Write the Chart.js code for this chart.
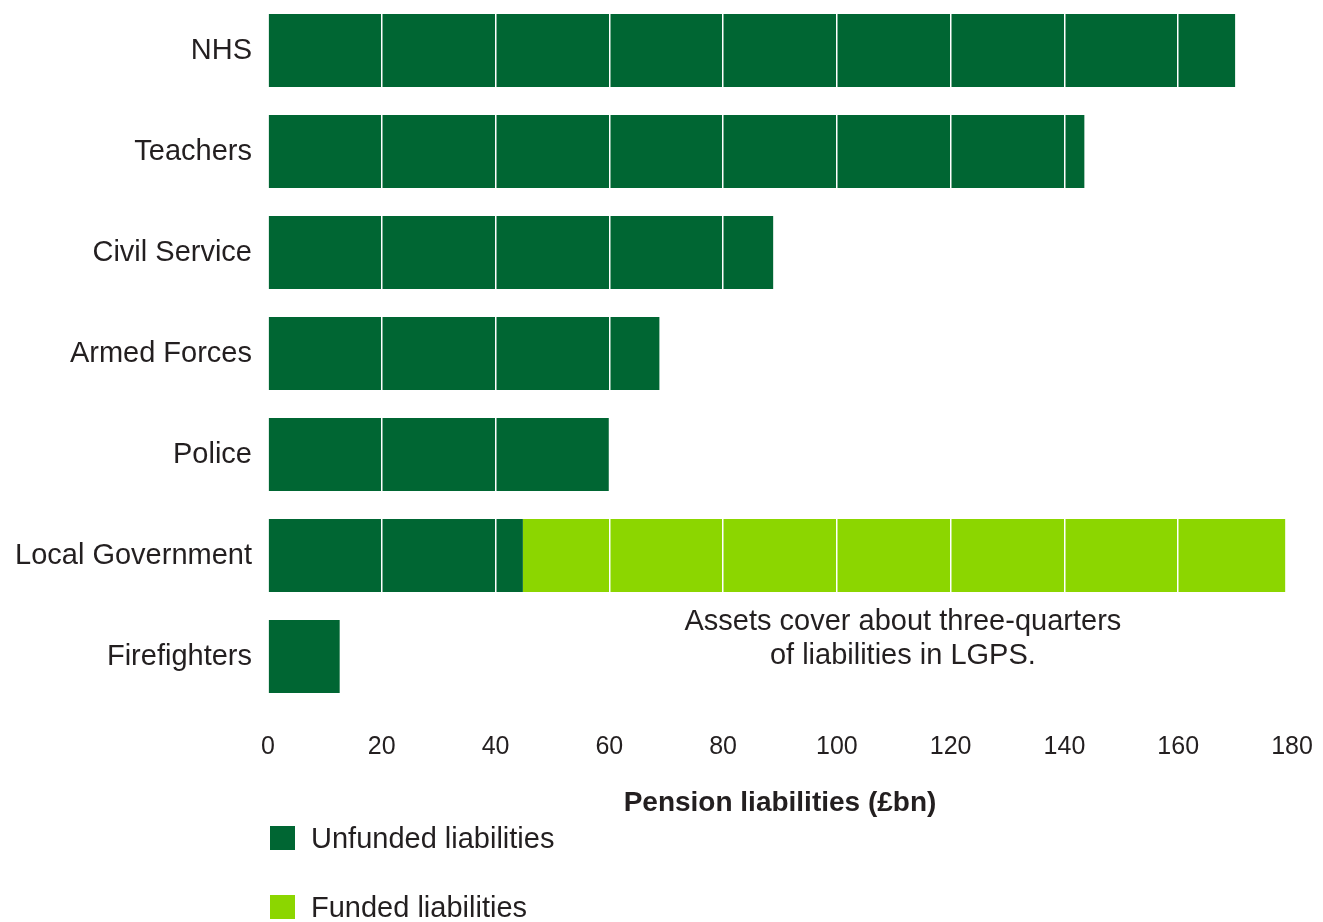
<!DOCTYPE html>
<html>
<head>
<meta charset="utf-8">
<script src="https://cdn.jsdelivr.net/npm/chart.js@4.4.1/dist/chart.umd.min.js"></script>
<style>
  html, body { margin: 0; padding: 0; background: #fff; }
  #wrap { position: relative; width: 1323px; height: 922px; }
  canvas { position: absolute; left: 0; top: 0; }
  .leg { position: absolute; left: 270px; font-family: "Liberation Sans", Arial, sans-serif; font-size: 29px; color: #231f20; display: flex; align-items: center; height: 34px; }
  .sw { width: 25px; height: 24px; margin-right: 16px; }
</style>
</head>
<body>
<div id="wrap">
  <canvas id="c" width="1323" height="922"></canvas>
  <div class="leg" style="top:821px;"><span class="sw" style="background:#006633"></span>Unfunded liabilities</div>
  <div class="leg" style="top:890px;"><span class="sw" style="background:#8cd600"></span>Funded liabilities</div>
</div>
<script>
const categories = ["NHS", "Teachers", "Civil Service", "Armed Forces", "Police", "Local Government", "Firefighters"];
const unfunded = [170, 143.5, 88.8, 68.8, 59.9, 44.8, 12.6];
const funded = [null, null, null, null, null, 134, null];
const xTicks = [0, 20, 40, 60, 80, 100, 120, 140, 160, 180];
const seriesNames = ["Unfunded liabilities", "Funded liabilities"];
const axisTitle = "Pension liabilities (£bn)";
const noteLines = ["Assets cover about three-quarters", "of liabilities in LGPS."];
const noteAnchor = { category: "Firefighters", value: 111.6 };

const FONT = '"Liberation Sans", Arial, sans-serif';
const TEXT = '#231f20';

const notePlugin = {
  id: 'note',
  afterDraw(chart) {
    const ctx = chart.ctx;
    const xs = chart.scales.x, ys = chart.scales.y;
    const x = xs.getPixelForValue(noteAnchor.value);
    const y = ys.getPixelForValue(categories.indexOf(noteAnchor.category));
    ctx.save();
    ctx.font = '29px ' + FONT;
    ctx.fillStyle = TEXT;
    ctx.textAlign = 'center';
    ctx.textBaseline = 'middle';
    ctx.fillText(noteLines[0], x, y - 35);
    ctx.fillText(noteLines[1], x, y - 0.5);
    ctx.restore();
  }
};

new Chart(document.getElementById('c'), {
  type: 'bar',
  data: {
    labels: categories,
    datasets: [
      { label: seriesNames[0], data: unfunded, backgroundColor: '#006633', borderWidth: 0, categoryPercentage: 1, barPercentage: 0.723 },
      { label: seriesNames[1], data: funded, backgroundColor: '#8cd600', borderWidth: 0, categoryPercentage: 1, barPercentage: 0.723 }
    ]
  },
  options: {
    indexAxis: 'y',
    responsive: false,
    animation: false,
    layout: { padding: { left: 0, right: 31, top: -1, bottom: 100 } },
    plugins: { legend: { display: false }, tooltip: { enabled: false } },
    scales: {
      x: {
        stacked: true,
        min: 0, max: 180,
        afterBuildTicks(scale) { scale.ticks = xTicks.map(v => ({ value: v })); },
        afterFit(scale) { scale.height = 115; scale.paddingLeft = 0; scale.paddingRight = 0; },
        grid: { color: '#ffffff', lineWidth: 1.5, drawTicks: false, z: 1 },
        border: { display: false },
        ticks: { color: TEXT, font: { family: FONT, size: 25 }, padding: 25, maxRotation: 0 },
        title: { display: true, text: axisTitle, color: TEXT, font: { family: FONT, size: 28, weight: 'bold' }, padding: { top: 0, bottom: 2 } }
      },
      y: {
        stacked: true,
        afterFit(scale) { scale.width = 268; scale.paddingTop = 0; scale.paddingBottom = 0; },
        grid: { display: false, drawTicks: false },
        border: { display: false },
        ticks: { color: TEXT, font: { family: FONT, size: 29 }, padding: 16 }
      }
    }
  },
  plugins: [notePlugin]
});
</script>
</body>
</html>
